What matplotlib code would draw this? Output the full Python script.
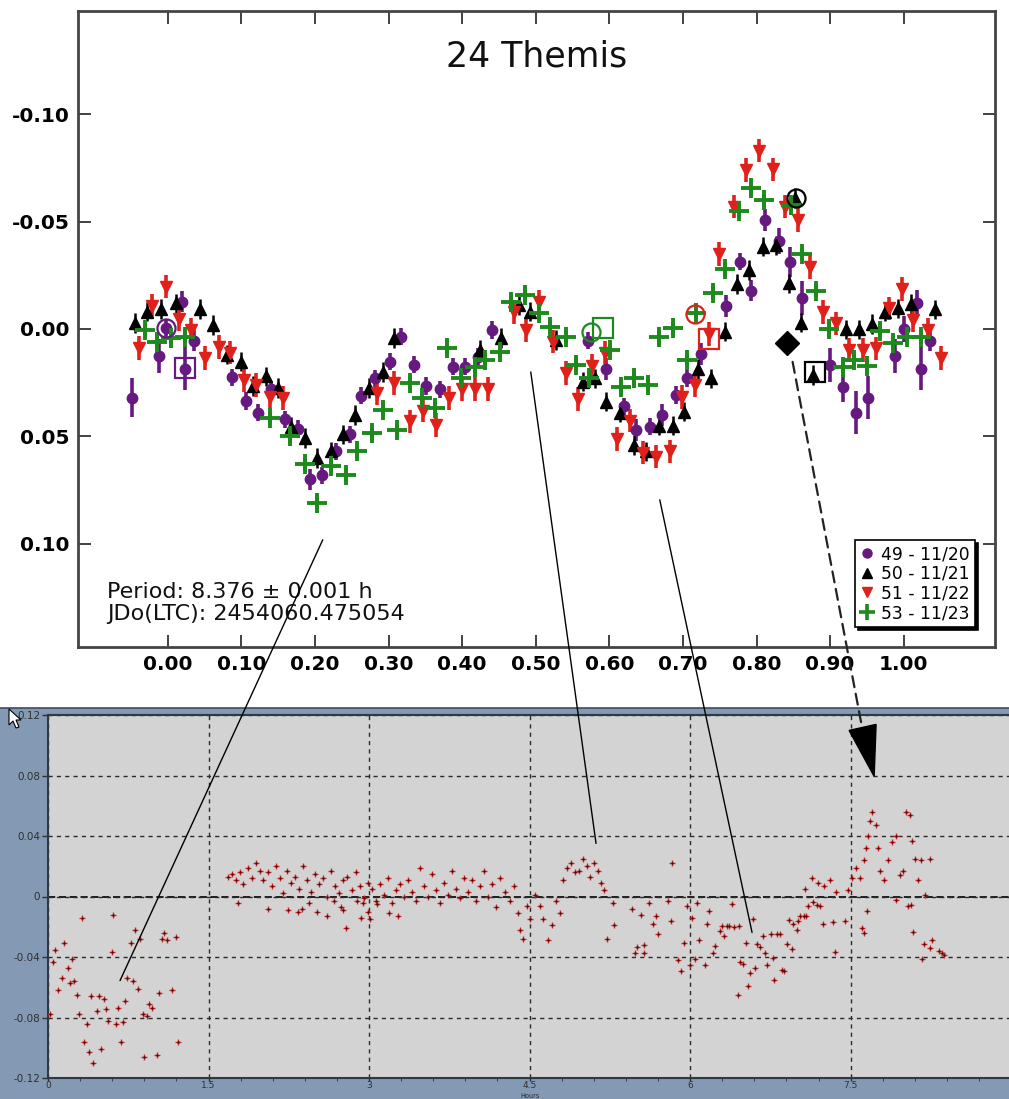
import numpy as np
import matplotlib.pyplot as plt
from matplotlib.patches import ConnectionPatch, Rectangle, Polygon
from matplotlib.lines import Line2D

plt.rcParams['font.family'] = ['DejaVu Sans']

# ---- top panel: folded lightcurve (phase, relative mag) ----
ph49 = [-0.049, -0.012, -0.003, 0.019, 0.023, 0.035, 0.087, 0.106, 0.123, 0.140, 0.159, 0.177, 0.193, 0.209,
        0.228, 0.248, 0.263, 0.281, 0.302, 0.317, 0.334, 0.351, 0.370, 0.387, 0.404, 0.421, 0.440, 0.571,
        0.595, 0.620, 0.636, 0.655, 0.671, 0.690, 0.705, 0.725, 0.759, 0.778, 0.793, 0.812, 0.830, 0.846,
        0.862, 0.900, 0.917, 0.935, 0.952, 0.988, 1.001, 1.018, 1.024, 1.036]
mag49 = [0.032, 0.0126, -0.0003, -0.0127, 0.0186, 0.0054, 0.0224, 0.0335, 0.039, 0.028, 0.042, 0.0465, 0.070,
         0.068, 0.057, 0.049, 0.031, 0.023, 0.0152, 0.0036, 0.0167, 0.0265, 0.028, 0.0175, 0.0175, 0.013,
         0.0005, 0.0054, 0.0186, 0.036, 0.047, 0.0454, 0.040, 0.0307, 0.023, 0.0116, -0.0107, -0.0313,
         -0.0178, -0.0507, -0.041, -0.0313, -0.0143, 0.0167, 0.0268, 0.039, 0.032, 0.0126, 0.000, -0.012,
         0.0186, 0.0054]
err49 = [0.009, 0.008, 0.004, 0.005, 0.010, 0.005, 0.004, 0.004, 0.004, 0.004, 0.004, 0.004, 0.005, 0.004,
         0.004, 0.004, 0.004, 0.004, 0.004, 0.004, 0.004, 0.004, 0.004, 0.004, 0.004, 0.004, 0.004, 0.004,
         0.005, 0.004, 0.005, 0.004, 0.005, 0.004, 0.004, 0.005, 0.005, 0.004, 0.005, 0.005, 0.006, 0.007,
         0.008, 0.008, 0.007, 0.010, 0.010, 0.008, 0.006, 0.006, 0.010, 0.005]

ph50 = [-0.045, -0.028, -0.009, 0.011, 0.044, 0.061, 0.080, 0.099, 0.116, 0.133, 0.150, 0.168, 0.187, 0.203,
        0.222, 0.238, 0.255, 0.273, 0.292, 0.308, 0.424, 0.453, 0.477, 0.492, 0.527, 0.564, 0.580, 0.596,
        0.615, 0.633, 0.650, 0.668, 0.686, 0.702, 0.721, 0.738, 0.757, 0.773, 0.790, 0.809, 0.826, 0.844,
        0.852, 0.861, 0.877, 0.921, 0.939, 0.957, 0.974, 0.992, 1.010, 1.043]
mag50 = [-0.0028, -0.008, -0.0093, -0.012, -0.0093, -0.0019, 0.012, 0.0152, 0.0265, 0.022, 0.0275, 0.0454,
         0.0507, 0.060, 0.057, 0.049, 0.040, 0.0275, 0.020, 0.0042, 0.0098, 0.0042, -0.011, -0.008, 0.0051,
         0.0245, 0.023, 0.0338, 0.039, 0.054, 0.057, 0.045, 0.045, 0.0385, 0.0186, 0.023, 0.0012, -0.0209,
         -0.0274, -0.0383, -0.039, -0.0212, -0.061, -0.003, 0.0214, 0.0002, 0.0002, -0.0023, -0.008, -0.0096,
         -0.0116, -0.0091]
err50 = 0.0045

ph51 = [-0.039, -0.022, -0.003, 0.015, 0.032, 0.051, 0.069, 0.085, 0.103, 0.120, 0.139, 0.157, 0.284, 0.308,
        0.329, 0.347, 0.365, 0.382, 0.400, 0.418, 0.435, 0.471, 0.487, 0.505, 0.524, 0.541, 0.557, 0.577,
        0.594, 0.610, 0.628, 0.646, 0.664, 0.682, 0.699, 0.717, 0.736, 0.749, 0.770, 0.786, 0.803, 0.822,
        0.838, 0.856, 0.872, 0.890, 0.908, 0.926, 0.944, 0.962, 0.980, 0.997, 1.013, 1.033, 1.051]
mag51 = [0.0088, -0.0107, -0.0197, -0.0047, 0.0005, 0.0135, 0.0084, 0.011, 0.0237, 0.026, 0.0315, 0.032,
         0.030, 0.025, 0.043, 0.038, 0.0447, 0.032, 0.028, 0.028, 0.028, -0.008, 0.0005, -0.0127, 0.0059,
         0.0205, 0.0327, 0.0172, 0.011, 0.0513, 0.0426, 0.0575, 0.0594, 0.057, 0.0315, 0.026, 0.0023, -0.035,
         -0.057, -0.074, -0.083, -0.0743, -0.057, -0.0507, -0.029, -0.008, -0.0026, 0.0098, 0.0098, 0.009,
         -0.0096, -0.0185, -0.0042, 0.0005, 0.0136]
err51 = 0.0055

ph53 = [-0.031, -0.014, 0.005, 0.023, 0.139, 0.166, 0.187, 0.203, 0.222, 0.242, 0.257, 0.277, 0.292, 0.311,
        0.329, 0.345, 0.363, 0.380, 0.399, 0.417, 0.431, 0.452, 0.467, 0.486, 0.505, 0.520, 0.541, 0.555,
        0.573, 0.601, 0.616, 0.633, 0.653, 0.668, 0.687, 0.706, 0.718, 0.741, 0.757, 0.776, 0.793, 0.810,
        0.847, 0.862, 0.881, 0.899, 0.917, 0.933, 0.950, 0.968, 0.986, 1.004, 1.023]
mag53 = [0.0005, 0.0059, 0.0043, 0.0036, 0.0414, 0.050, 0.063, 0.081, 0.0637, 0.068, 0.057, 0.0485, 0.0377,
         0.047, 0.025, 0.032, 0.0369, 0.0088, 0.0228, 0.0175, 0.0144, 0.0105, -0.0127, -0.0158, -0.0073,
         -0.0011, 0.0036, 0.0167, 0.023, 0.0098, 0.0268, 0.023, 0.026, 0.0039, -0.0003, 0.0144, -0.0076,
         -0.0169, -0.0278, -0.055, -0.0654, -0.060, -0.0577, -0.0349, -0.0178, 0.0002, 0.0175, 0.0144,
         0.0172, 0.0008, 0.0067, 0.0039, 0.0039]
err53 = 0.003

# reference (comparison) points, open symbols
ref_phase = [-0.003, 0.024, 0.575, 0.591, 0.716, 0.735, 0.853, 0.879]
ref_mag = [-0.0003, 0.018, 0.0012, -0.0003, -0.007, 0.0048, -0.061, 0.020]
ref_color = ['#66197f', '#66197f', '#1e8a1e', '#1e8a1e', '#e0201a', '#e0201a', 'black', 'black']
ref_shape = ['o', 's', 'o', 's', 'o', 's', 'o', 's']
diamond_phase, diamond_mag = [0.841], [0.0067]

labels = ['49 - 11/20', '50 - 11/21', '51 - 11/22', '53 - 11/23']

# ---- bottom panel: raw data, hours vs delta mag ----
hrs = [0.02, 0.044, 0.065, 0.096, 0.134, 0.152, 0.184, 0.206, 0.221, 0.243, 0.274, 0.293, 0.315, 0.336,
       0.361, 0.383, 0.399, 0.424, 0.455, 0.474, 0.495, 0.523, 0.542, 0.558, 0.595, 0.611, 0.632, 0.651,
       0.679, 0.698, 0.720, 0.741, 0.773, 0.791, 0.813, 0.838, 0.860, 0.885, 0.897, 0.925, 0.947, 0.969,
       1.016, 1.040, 1.062, 1.087, 1.109, 1.156, 1.196, 1.218,
       1.682, 1.720, 1.757, 1.794, 1.822, 1.869, 1.907, 1.944, 1.981, 2.009, 2.056, 2.093, 2.131, 2.168,
       2.196, 2.234, 2.271, 2.308, 2.346, 2.383, 2.421, 2.458, 2.495, 2.533, 2.570, 2.607, 2.645, 2.682,
       2.720, 2.757, 2.794, 2.841, 2.879, 2.916, 2.953, 2.991,
       1.776, 2.059, 2.246, 2.334, 2.371, 2.442, 2.511, 2.605, 2.676, 2.735, 2.760, 2.785, 2.891, 2.922,
       2.947, 2.994, 3.009, 3.078, 3.190, 3.274,
       3.028, 3.065, 3.103, 3.140, 3.178, 3.215, 3.252, 3.290, 3.327, 3.364, 3.402, 3.439, 3.477, 3.514,
       3.551, 3.589, 3.626, 3.664, 3.701, 3.738, 3.776, 3.813, 3.850, 3.888, 3.925, 3.963, 4.000, 4.037,
       4.075, 4.112, 4.150, 4.187, 4.224, 4.271, 4.318, 4.355, 4.393, 4.411, 4.439, 4.477, 4.505,
       4.551, 4.598, 4.626, 4.673, 4.710, 4.748, 4.785, 4.813, 4.850, 4.888, 4.925, 4.963, 5.000, 5.037,
       5.065, 5.103, 5.140, 5.168, 5.196,
       5.221, 5.277, 5.290, 5.455, 5.486, 5.502, 5.539, 5.573, 5.573, 5.620, 5.657, 5.682, 5.704, 5.797,
       5.819, 5.830, 5.891, 5.913, 5.947, 5.975, 6.000, 6.021, 6.047, 6.068, 6.087, 6.140, 6.156, 6.180,
       6.212, 6.234, 6.280, 6.302, 6.318, 6.343, 6.368, 6.396, 6.411, 6.461, 6.452, 6.467, 6.498, 6.520,
       6.539, 6.561, 6.586, 6.607, 6.629, 6.654, 6.679, 6.701, 6.717, 6.754, 6.773, 6.785, 6.810, 6.841,
       6.857, 6.879, 6.910, 6.928, 6.950, 6.966, 6.997, 7.012, 7.028, 7.065, 7.084, 7.106, 7.153, 7.184,
       7.215, 7.246, 7.333, 7.355, 7.449, 7.604, 7.626, 7.651, 7.925, 8.040, 8.062, 8.081, 8.165, 8.187,
       8.243, 8.259, 8.330, 8.352, 8.374,
       7.075, 7.140, 7.196, 7.252, 7.308, 7.364, 7.477, 7.514, 7.551, 7.589, 7.626, 7.645, 7.664, 7.682,
       7.701, 7.738, 7.757, 7.776, 7.813, 7.850, 7.888, 7.925, 7.963, 7.991, 8.019, 8.056, 8.075, 8.103,
       8.131, 8.159, 8.196, 8.243]
dmag = [-0.078, -0.043, -0.0355, -0.062, -0.054, -0.031, -0.047, -0.057, -0.041, -0.056, -0.065, -0.078,
        -0.014, -0.096, -0.084, -0.1025, -0.066, -0.110, -0.076, -0.066, -0.101, -0.068, -0.0745, -0.0825,
        -0.037, -0.012, -0.084, -0.074, -0.096, -0.083, -0.069, -0.054, -0.031, -0.056, -0.022, -0.061,
        -0.028, -0.078, -0.106, -0.079, -0.071, -0.074, -0.1045, -0.064, -0.028, -0.024, -0.029, -0.062,
        -0.027, -0.096,
        0.013, 0.015, 0.011, 0.016, 0.008, 0.019, 0.012, 0.022, 0.017, 0.011, 0.016, 0.007, 0.020, 0.012,
        0.002, 0.017, 0.009, 0.013, 0.005, 0.020, 0.011, 0.003, 0.015, 0.008, 0.012, 0.000, 0.017, 0.007,
        0.002, 0.011, 0.013, 0.004, 0.016, 0.007, -0.001, 0.009,
        -0.004, -0.008, -0.009, -0.010, -0.008, -0.004, -0.010, -0.013, -0.003, -0.007, -0.009, -0.021,
        -0.003, -0.014, -0.004, -0.010, -0.015, -0.005, -0.011, -0.013,
        0.005, -0.003, 0.008, 0.001, 0.012, -0.004, 0.004, 0.008, 0.000, 0.011, 0.003, -0.003, 0.019, 0.007,
        0.000, 0.015, 0.004, -0.004, 0.009, 0.001, 0.017, 0.005, -0.001, 0.012, 0.003, 0.011, -0.003, 0.007,
        0.017, 0.000, 0.008, -0.007, 0.012, 0.003, -0.003, 0.007, -0.011, -0.022, -0.028, -0.006, -0.015,
        0.001, -0.006, -0.015, -0.029, -0.019, -0.003, -0.011, 0.011, 0.019, 0.022, 0.016, 0.017, 0.025,
        0.020, 0.013, 0.022, 0.017, 0.009, 0.004,
        -0.028, -0.0044, -0.0187, -0.0081, -0.0372, -0.0331, -0.0124, -0.0319, -0.0372, -0.0044, -0.0181,
        -0.0126, -0.0251, -0.0033, -0.0163, 0.022, -0.0423, -0.0494, -0.031, -0.006, -0.045, -0.0141,
        -0.0412, -0.0044, -0.029, -0.045, -0.0181, -0.0097, -0.0375, -0.0324, -0.0229, -0.0192, -0.0258,
        -0.0198, -0.0192, -0.0048, -0.0203, -0.0192, -0.065, -0.0435, -0.0446, -0.031, -0.0594, -0.0507,
        -0.0148, -0.0474, -0.0313, -0.0335, -0.026, -0.0375, -0.045, -0.0251, -0.0405, -0.055, -0.0247,
        -0.0251, -0.0485, -0.049, -0.0313, -0.0154, -0.035, -0.0185, -0.022, -0.0159, -0.0132, -0.0126,
        -0.0132, -0.006, -0.0037, -0.0053, -0.006, -0.0181, -0.017, -0.0368, -0.0159, -0.0207, -0.0243,
        -0.0099, -0.0026, -0.006, -0.0053, -0.0236, -0.0412, -0.0313, -0.0342, -0.0287, -0.0362, -0.0375,
        -0.039,
        0.005, 0.012, 0.009, 0.007, 0.011, 0.003, 0.004, 0.012, 0.019, 0.012, 0.024, 0.032, 0.040, 0.050,
        0.056, 0.047, 0.032, 0.017, 0.011, 0.024, 0.036, 0.040, 0.014, 0.017, 0.056, 0.054, 0.037, 0.025,
        0.011, 0.024, 0.001, 0.025]

# overlay lines linking features: (top phase, top mag) -> (bottom hours, bottom dmag)
links = [((0.2106, 0.0981), (0.673, -0.0556)),
         ((0.4932, 0.0200), (5.121, 0.0351)),
         ((0.6685, 0.0795), (6.579, -0.0238))]
arrow_from = (0.849, 0.0153)
arrow_to = (7.607, 0.1118)
arrow_head = [(7.486, 0.1098), (7.738, 0.1138), (7.720, 0.0794)]

W, H = 1009, 1099
fig = plt.figure(figsize=(W / 100, H / 100), dpi=100)
fig.patch.set_facecolor('white')

# blue-grey window background for bottom panel
fig.add_artist(Rectangle((0, 0), 1, 391 / H, transform=fig.transFigure,
                         facecolor='#8499b4', edgecolor='none', zorder=0))
fig.add_artist(Line2D([0, 1], [391 / H, 391 / H], transform=fig.transFigure,
                      color='#3c4c60', lw=1.2, zorder=1))

# ---------------- top panel ----------------
ax = fig.add_axes([78 / W, 1 - 647 / H, 917 / W, 636 / H])
ax.set_xlim(-0.122, 1.124)
ax.set_ylim(0.148, -0.148)

purple, red, green = '#66197f', '#e0201a', '#1e8a1e'
ax.errorbar(ph49, mag49, yerr=err49, fmt='o', color=purple, ms=7.5, elinewidth=2.6, capsize=0, zorder=3)
ax.errorbar(ph50, mag50, yerr=err50, fmt='^', color='black', ms=8.5, elinewidth=1.8, capsize=0, zorder=3)
ax.errorbar(ph51, mag51, yerr=err51, fmt='v', color=red, ms=8.5, elinewidth=2.6, capsize=0, zorder=3)
ax.errorbar(ph53, mag53, yerr=err53, fmt='+', color=green, ms=15, mew=2.8, elinewidth=2.8, capsize=0, zorder=4)

for x, y, c, m in zip(ref_phase, ref_mag, ref_color, ref_shape):
    ax.plot(x, y, marker=m, mfc='none', mec=c, ms=13 if m == 'o' else 15, mew=1.6, zorder=5)
ax.errorbar(diamond_phase, diamond_mag, yerr=0.004, fmt='D', color='black', ms=12, elinewidth=2, zorder=5)

ax.text(0.5, 0.928, '24 Themis', transform=ax.transAxes, ha='center', va='center', fontsize=25, color='#111')
ax.text(0.0316, 0.077, 'Period: 8.376 \u00b1 0.001 h', transform=ax.transAxes, fontsize=16, color='#111')
ax.text(0.0316, 0.042, 'JDo(LTC): 2454060.475054', transform=ax.transAxes, fontsize=16, color='#111')

xt = np.round(np.arange(0, 1.01, 0.1), 2)
ax.set_xticks(xt)
ax.set_xticklabels(['%.2f' % v for v in xt], fontsize=14.5, fontweight='bold')
yt = [-0.10, -0.05, 0.00, 0.05, 0.10]
ax.set_yticks(yt)
ax.set_yticklabels(['%.2f' % v for v in yt], fontsize=14.5, fontweight='bold')
ax.tick_params(direction='in', length=9, width=1.3, color='#333', top=True, right=True, pad=6)
for s in ax.spines.values():
    s.set_linewidth(2)
    s.set_color('#444')

handles = [Line2D([], [], marker='o', color=purple, ls='none', ms=6.5),
           Line2D([], [], marker='^', color='black', ls='none', ms=7.5),
           Line2D([], [], marker='v', color=red, ls='none', ms=7.5),
           Line2D([], [], marker='+', color=green, ls='none', ms=12, mew=2.6)]
leg = ax.legend(handles, labels, loc='lower right', bbox_to_anchor=(0.978, 0.031), fontsize=12.3,
                frameon=True, fancybox=False, shadow={'color': 'black', 'alpha': 1},
                handlelength=0.8, handletextpad=0.4, borderpad=0.3, labelspacing=0.1, borderaxespad=0)
leg.get_frame().set_edgecolor('black')
leg.get_frame().set_linewidth(1.2)

# ---------------- bottom panel ----------------
bx = fig.add_axes([48 / W, 1 - 1078 / H, 961 / W, 363 / H])
bx.set_facecolor('#d3d3d3')
bx.set_xlim(0, 8.98)
bx.set_ylim(-0.12, 0.12)
bx.set_xticks(np.arange(0, 9, 1.5))
bx.set_xticklabels(['0', '1.5', '3', '4.5', '6', '7.5'])
bx.set_xticks(np.arange(0, 9, 0.3), minor=True)
bx.set_yticks([0.12, 0.08, 0.04, 0, -0.04, -0.08, -0.12])
bx.set_yticklabels(['0.12', '0.08', '0.04', '0', '-0.04', '-0.08', '-0.12'])
bx.tick_params(axis='y', labelsize=7.5, labelcolor='#303030', length=4, width=1, color='#303030', pad=1.5)
bx.tick_params(axis='x', labelsize=6.5, labelcolor='#303030', length=2.5, width=1, color='#303030', pad=0)
bx.tick_params(which='minor', length=2.5, color='#303030')
bx.grid(True, which='major', color='#2a2a2a', ls=(0, (3, 3)), lw=1)
bx.axhline(0, color='#111', lw=1.3, ls=(0, (4, 2)), zorder=1)
for side in ['left', 'bottom', 'top']:
    bx.spines[side].set_color('#303848')
    bx.spines[side].set_linewidth(1.5)
bx.spines['right'].set_visible(False)
bx.plot(hrs, dmag, ls='none', marker='+', ms=4, mew=1, color='#cc2a2a', zorder=3)
bx.plot(hrs, dmag, ls='none', marker='.', ms=1.5, color='#401010', zorder=4)
fig.text(530 / W, 0, 'Hours', ha='center', va='bottom', fontsize=4.8, color='#303030')

# mouse pointer in the corner
ptr = [(9, 709), (9, 725), (13, 721), (16, 728), (19, 727), (16, 720), (21, 720)]
fig.add_artist(Polygon([(x / 100, (H - y) / 100) for x, y in ptr], closed=True,
                       transform=fig.dpi_scale_trans, facecolor='white', edgecolor='black', lw=0.8, zorder=10))

# ---------------- overlay links ----------------
for a, b in links:
    fig.add_artist(ConnectionPatch(xyA=a, coordsA=ax.transData, xyB=b, coordsB=bx.transData,
                                   color='black', lw=1, zorder=20))
fig.add_artist(ConnectionPatch(xyA=arrow_from, coordsA=ax.transData, xyB=arrow_to, coordsB=bx.transData,
                               color='#222', lw=1.6, ls=(0, (5, 3)), zorder=20))
bx.add_patch(Polygon(arrow_head, closed=True, facecolor='black', edgecolor='black', clip_on=False, zorder=21))

fig.savefig('out.png', dpi=100)
